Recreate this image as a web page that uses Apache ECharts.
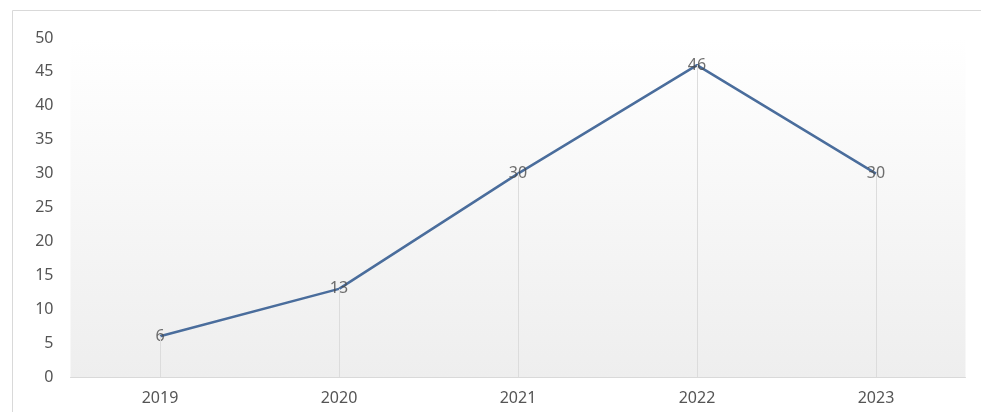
<!DOCTYPE html>
<html><head><meta charset="utf-8">
<script src="https://cdn.jsdelivr.net/npm/echarts@6/dist/echarts.min.js"></script>
<style>html,body{margin:0;padding:0;background:#fff}#c{width:981px;height:412px}</style>
</head><body><div id="c"></div>
<script>
var categories = ['2019','2020','2021','2022','2023'];
var values = [6, 13, 30, 46, 30];
var yTicks = {min:0, max:50, interval:5};

var chart = echarts.init(document.getElementById('c'));
var dropLines = values.map(function(v,i){ return [{coord:[i,0]},{coord:[i,v]}]; });
chart.setOption({
  animation:false,
  graphic:[{type:'rect', shape:{x:12.5,y:10.5,width:990,height:430}, style:{fill:null, stroke:'#d9d9d9', lineWidth:1}, silent:true}],
  grid:{left:70.5, right:15.5, top:38, bottom:35, show:true, borderWidth:0,
    backgroundColor:{type:'linear',x:0,y:0,x2:0,y2:1,colorStops:[{offset:0,color:'#ffffff'},{offset:1,color:'#eeeeee'}]}},
  xAxis:{type:'category', data:categories, boundaryGap:true,
    axisLine:{lineStyle:{color:'#d9d9d9',width:1}}, axisTick:{show:false},
    axisLabel:{color:'#555555', fontSize:16, fontFamily:'Noto Sans', margin:13}},
  yAxis:{type:'value', min:yTicks.min, max:yTicks.max, interval:yTicks.interval,
    axisLine:{show:false}, axisTick:{show:false}, splitLine:{show:false},
    axisLabel:{color:'#555555', fontSize:16, fontFamily:'Noto Sans', margin:17}},
  series:[{type:'line', data:values, symbol:'none', smooth:false,
    lineStyle:{color:'#4a6d9c', width:2.5},
    markLine:{silent:true, symbol:'none', label:{show:false},
      lineStyle:{color:'#dcdcdc', type:'solid', width:1}, data:dropLines},
    z:3
  },{type:'scatter', data:values, symbolSize:1, itemStyle:{color:'rgba(0,0,0,0)'}, silent:true,
    label:{show:true, position:'inside', color:'#4a4a4a', fontSize:16, fontFamily:'Noto Sans'},
    z:4
  }]
});
</script></body></html>
